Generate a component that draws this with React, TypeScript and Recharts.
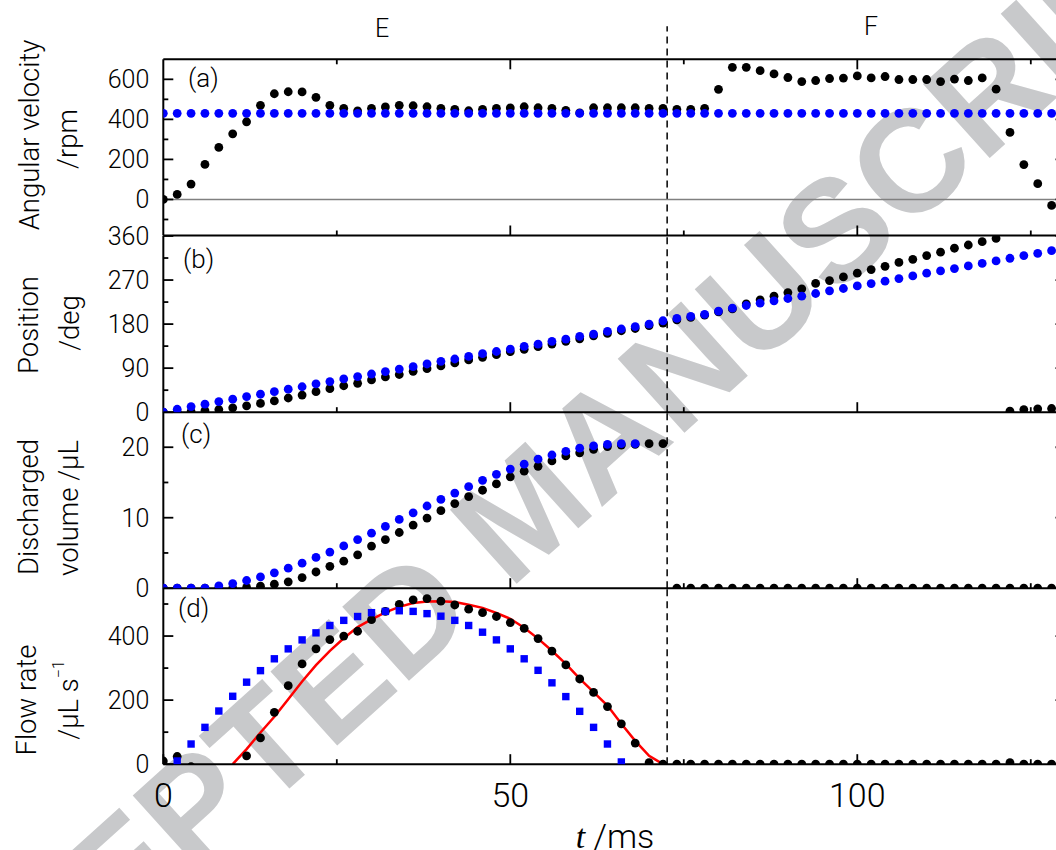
import React from "react";
import { ComposedChart, Scatter, Line, XAxis, YAxis, ReferenceLine } from "recharts";

// time grid, ms
const time = [
  0, 2, 4, 6, 8, 10, 12, 14, 16, 18, 20, 22, 24, 26, 28, 30, 32, 34, 36, 38, 40,
  42, 44, 46, 48, 50, 52, 54, 56, 58, 60, 62, 64, 66, 68, 70, 72, 74, 76, 78, 80,
  82, 84, 86, 88, 90, 92, 94, 96, 98, 100, 102, 104, 106, 108, 110, 112, 114, 116,
  118, 120, 122, 124, 126, 128,
];

// (a) angular velocity, rpm
const velMeasured = [
  0, 25, 77, 175, 260, 328, 388, 470, 528, 538, 537, 510, 470, 455, 442, 455, 462,
  470, 468, 463, 455, 450, 443, 450, 455, 457, 463, 458, 455, 445, 432, 458, 458,
  458, 458, 455, 455, 450, 450, 455, 550, 660, 660, 643, 627, 609, 589, 594, 604,
  606, 617, 607, 614, 599, 599, 599, 589, 601, 594, 607, 551, 335, 174, 79, -30,
];
const velModel = [
  430, 430, 430, 430, 430, 430, 430, 430, 430, 430, 430, 430, 430, 430, 430, 430,
  430, 430, 430, 430, 430, 430, 430, 430, 430, 430, 430, 430, 430, 430, 430, 430,
  430, 430, 430, 430, 430, 430, 430, 430, 430, 430, 430, 430, 430, 430, 430, 430,
  430, 430, 430, 430, 430, 430, 430, 430, 430, 430, 430, 430, 430, 430, 430, 430,
  430,
];

// (b) position, deg
const posMeasured = [
  0, 0, 1, 3, 5.5, 9, 13, 18, 23, 29, 35, 42, 48, 54, 59, 66, 72, 77, 83.5, 89,
  94.5, 100.6, 106.7, 112, 117.5, 123.6, 128.4, 133.8, 139.2, 144.7, 150, 156, 161,
  166.4, 171, 177, 182, 188.8, 193.6, 198.3, 205, 211, 221.4, 229.6, 237, 244.5,
  252, 263, 269, 276.4, 284, 291.4, 298, 306, 312.4, 320, 327, 335, 341.6, 348.4,
  355, 2, 5.4, 6.8, 7.5,
];
const posModel = [
  0, 6, 11.5, 16.3, 21.7, 26.5, 32, 36.7, 42, 47, 52, 58, 62.5, 68, 72.7, 78, 83,
  88, 93, 98.5, 104, 108.7, 114, 119.5, 124, 129, 134.5, 139, 144.7, 149.4, 155,
  159.6, 165, 170, 175, 180, 186.8, 191.5, 195.6, 200, 206.5, 212.6, 218, 222.8,
  227.5, 232.3, 237, 242.5, 248, 252.7, 258, 262.8, 267.6, 273, 278.5, 284, 288.7,
  293.4, 298.8, 304, 309, 314.5, 320, 324.7, 330,
];

// (c) discharged volume, uL
const volMeasured = [
  0, 0, 0, 0, 0, 0, 0.1, 0.28, 0.57, 0.9, 1.5, 2.3, 3.1, 3.84, 4.74, 5.97, 6.9, 7.9,
  8.96, 9.95, 11, 12, 13, 13.9, 14.8, 15.8, 16.6, 17.3, 18.06, 18.77, 19.2, 19.7,
  20.1, 20.3, 20.4, 20.5, 20.5, 0, 0, 0, 0, 0, 0, 0, 0, 0, 0, 0, 0, 0, 0, 0, 0, 0,
  0, 0, 0, 0, 0, 0, 0, 0, 0, 0, 0,
];
const volModelTime = time.slice(0, 35);
const volModel = [
  0, 0, 0, 0, 0.33, 0.66, 1.09, 1.6, 2.18, 2.84, 3.55, 4.36, 5.12, 6.0, 6.9, 7.8,
  8.77, 9.76, 10.7, 11.66, 12.6, 13.5, 14.4, 15.3, 16.16, 16.9, 17.6, 18.3, 18.9,
  19.4, 19.86, 20.2, 20.4, 20.5, 20.5,
];

// (d) flow rate, uL/s
const flowMeasured = [
  10, 24, -8, -25, -25, -20, 26, 82, 162, 245, 313, 360, 389, 400, 415, 451, 477,
  499, 513, 517, 509, 497, 484, 473, 461, 442, 424, 392, 353, 310, 266, 224, 180,
  126, 66, 5, 0, 0, 0, 0, 0, 0, 0, 0, 0, 0, 0, 0, 0, 0, 0, 0, 0, 0, 0, 0, 0, 0, 0,
  0, 0, 5, 0, 0, 0,
];
const flowModelTime = time.slice(1, 34);
const flowModel = [
  10, 63, 115, 166, 212, 256, 292, 329, 360, 388, 410, 433, 449, 461, 473, 477, 479,
  477, 470, 462, 449, 433, 412, 388, 360, 329, 293, 254, 211, 165, 115, 63, 7,
];
const flowCalcTime = time.slice(5, 37);
const flowCalc = [
  0, 47, 99, 148, 203, 258, 309, 354, 393, 428, 452, 474, 491, 503, 508, 509, 506,
  498, 488, 472, 454, 426, 392, 354, 313, 267, 225, 183, 126, 73, 26, 0,
];

const PHASE_SPLIT = 72.6;

const pts = (ts: number[], vs: number[]) => ts.map((t, i) => ({ t, v: vs[i] }));

const FONT = "Roboto, 'Liberation Sans', Arial, sans-serif";
const W = 1100;
const PLOT_L = 163.3;
const PLOT_R = 1065.5;
const PH = 176.2;
const YW = 60;
const RW = 10;
const XH = 2;
const TOPS = [59.3, 235.5, 411.7, 587.9];
const MAJOR = 10;
const MINOR = 5;
const AXIS_W = 2;

const blackDot = (p: any) => <circle cx={p.cx} cy={p.cy} r={4.4} fill="#000" />;
const blueDot = (p: any) => <circle cx={p.cx} cy={p.cy} r={4.4} fill="#0000ff" />;
const blueSquare = (p: any) => (
  <rect x={p.cx - 3.7} y={p.cy - 3.7} width={7.4} height={7.4} fill="#0000ff" />
);

const leftTick = (major: number[]) => (p: any) => {
  const v = p.payload.value;
  const isMajor = major.includes(v);
  return (
    <g>
      <line x1={p.x} x2={p.x + (isMajor ? MAJOR : MINOR)} y1={p.y} y2={p.y} stroke="#000" strokeWidth={1.8} />
      {isMajor && (
        <text x={p.x - 14} y={p.y} dy="0.36em" textAnchor="end" fontSize={25} fontFamily={FONT} fontWeight={300} fill="#000">
          {v}
        </text>
      )}
    </g>
  );
};

const rightTick = (major: number[]) => (p: any) => {
  const isMajor = major.includes(p.payload.value);
  return <line x1={p.x} x2={p.x - (isMajor ? MAJOR : MINOR)} y1={p.y} y2={p.y} stroke="#000" strokeWidth={1.8} />;
};

const X_MAJOR = [0, 50, 100];
const bottomTick = (labels: boolean) => (p: any) => {
  const v = p.payload.value;
  const isMajor = X_MAJOR.includes(v);
  return (
    <g>
      <line x1={p.x} x2={p.x} y1={p.y} y2={p.y - (isMajor ? MAJOR : MINOR)} stroke="#000" strokeWidth={1.8} />
      {labels && isMajor && (
        <text x={p.x} y={p.y + 31} dy="0.36em" textAnchor="middle" fontSize={34} fontFamily={FONT} fontWeight={300} fill="#000">
          {v}
        </text>
      )}
    </g>
  );
};

const topTick = (p: any) => {
  const isMajor = X_MAJOR.includes(p.payload.value);
  return <line x1={p.x} x2={p.x} y1={p.y} y2={p.y + (isMajor ? MAJOR : MINOR)} stroke="#000" strokeWidth={1.8} />;
};

interface PanelProps {
  index: number;
  domain: [number, number];
  major: number[];
  minor: number[];
  children: React.ReactNode;
}

function Panel({ index, domain, major, minor, children }: PanelProps) {
  const first = index === 0;
  const last = index === 3;
  const plotTop = TOPS[index];
  const padT = first ? plotTop : 20;
  const padB = last ? 86 : 20;
  const height = padT + PH + padB;
  const topH = first ? XH : 0;
  const yTicks = [...major, ...minor].sort((a, b) => a - b);
  const xTicks = last ? [0, 25, 50, 75, 100, 125] : [25, 50, 75, 100, 125];
  const axisLine = { stroke: "#000", strokeWidth: AXIS_W };
  return (
    <div style={{ position: "absolute", left: 0, top: plotTop - padT, width: W, height }}>
      <ComposedChart
        width={W}
        height={height}
        margin={{ top: padT - topH, right: W - PLOT_R - RW, bottom: padB - XH, left: PLOT_L - YW }}
      >
        <XAxis
          type="number"
          dataKey="t"
          domain={[0, 130]}
          allowDataOverflow
          ticks={xTicks}
          interval={0}
          tickSize={0}
          tickMargin={0}
          height={XH}
          axisLine={axisLine}
          tickLine={false}
          tick={bottomTick(last)}
        />
        {first && (
          <XAxis
            xAxisId="top"
            orientation="top"
            type="number"
            dataKey="t"
            domain={[0, 130]}
            allowDataOverflow
            ticks={[25, 50, 75, 100, 125]}
            interval={0}
            tickSize={0}
            tickMargin={0}
            height={XH}
            axisLine={axisLine}
            tickLine={false}
            tick={topTick}
          />
        )}
        <YAxis
          type="number"
          dataKey="v"
          domain={domain}
          allowDataOverflow
          ticks={yTicks}
          interval={0}
          tickSize={0}
          tickMargin={0}
          width={YW}
          axisLine={axisLine}
          tickLine={false}
          tick={leftTick(major)}
        />
        <YAxis
          yAxisId="right"
          orientation="right"
          type="number"
          dataKey="v"
          domain={domain}
          allowDataOverflow
          ticks={yTicks}
          interval={0}
          tickSize={0}
          tickMargin={0}
          width={RW}
          axisLine={axisLine}
          tickLine={false}
          tick={rightTick(major)}
        />
        {first ? (
          <ReferenceLine
            segment={[
              { x: PHASE_SPLIT, y: -180 },
              { x: PHASE_SPLIT, y: 865 },
            ]}
            ifOverflow="visible"
            stroke="#000"
            strokeWidth={1.5}
            strokeDasharray="7 5"
          />
        ) : (
          <ReferenceLine x={PHASE_SPLIT} stroke="#000" strokeWidth={1.5} strokeDasharray="7 5" />
        )}
        {children}
      </ComposedChart>
    </div>
  );
}

const vTitle = (x: number, y: number, content: React.ReactNode) => (
  <text
    transform={`translate(${x},${y}) rotate(-90)`}
    textAnchor="middle"
    dominantBaseline="central"
    fontSize={27.5}
    fontFamily={FONT}
    fontWeight={300}
    fill="#000"
  >
    {content}
  </text>
);

const panelLabel = (x: number, y: number, s: string) => (
  <text x={x} y={y} dominantBaseline="central" fontSize={26} fontFamily={FONT} fontWeight={300} fill="#000">
    {s}
  </text>
);

export default function App() {
  return (
    <div
      style={{
        position: "fixed",
        left: 0,
        top: 0,
        width: 1056,
        height: 850,
        overflow: "hidden",
        background: "#fff",
      }}
    >
      <svg width={1056} height={850} style={{ position: "absolute", left: 0, top: 0 }}>
        <text
          x={524}
          y={510}
          transform="rotate(-42 524 510)"
          textAnchor="middle"
          dominantBaseline="central"
          fontSize={145}
          fontWeight="bold"
          fontFamily="'Liberation Sans', Arial, sans-serif"
          fill="#c8c9cb"
        >
          ACCEPTED MANUSCRIPT
        </text>
      </svg>

      <Panel index={0} domain={[-180, 700]} major={[0, 200, 400, 600]} minor={[-100, 100, 300, 500]}>
        <ReferenceLine y={0} stroke="#808080" strokeWidth={1.5} />
        <Scatter data={pts(time, velMeasured)} shape={blackDot} isAnimationActive={false} />
        <Scatter data={pts(time, velModel)} shape={blueDot} isAnimationActive={false} />
      </Panel>

      <Panel index={1} domain={[0, 360]} major={[0, 90, 180, 270, 360]} minor={[45, 135, 225, 315]}>
        <Scatter data={pts(time, posMeasured)} shape={blackDot} isAnimationActive={false} />
        <Scatter data={pts(time, posModel)} shape={blueDot} isAnimationActive={false} />
      </Panel>

      <Panel index={2} domain={[0, 25]} major={[0, 10, 20]} minor={[5, 15]}>
        <Scatter data={pts(time, volMeasured)} shape={blackDot} isAnimationActive={false} />
        <Scatter data={pts(volModelTime, volModel)} shape={blueDot} isAnimationActive={false} />
      </Panel>

      <Panel index={3} domain={[0, 550]} major={[0, 200, 400]} minor={[100, 300, 500]}>
        <Scatter data={pts(time, flowMeasured)} shape={blackDot} isAnimationActive={false} />
        <Scatter data={pts(flowModelTime, flowModel)} shape={blueSquare} isAnimationActive={false} />
        <Line
          data={pts(flowCalcTime, flowCalc)}
          dataKey="v"
          type="linear"
          stroke="#ff0000"
          strokeWidth={2.5}
          dot={false}
          activeDot={false}
          isAnimationActive={false}
        />
      </Panel>

      <svg width={1056} height={850} style={{ position: "absolute", left: 0, top: 0, pointerEvents: "none" }}>
        <text x={382} y={28} textAnchor="middle" dominantBaseline="central" fontSize={25} fontFamily={FONT} fontWeight={300}>
          E
        </text>
        <text x={871} y={26} textAnchor="middle" dominantBaseline="central" fontSize={25} fontFamily={FONT} fontWeight={300}>
          F
        </text>

        {vTitle(29, 135, "Angular velocity")}
        {vTitle(67, 139, "/rpm")}
        {vTitle(28, 325, "Position")}
        {vTitle(69, 323, "/deg")}
        {vTitle(28, 507, "Discharged")}
        {vTitle(68, 508, "volume /μL")}
        {vTitle(26, 700, "Flow rate")}
        {vTitle(
          68,
          700,
          <>
            /μL s
            <tspan fontSize={16} dy={-10}>
              −1
            </tspan>
          </>
        )}

        {panelLabel(188, 78, "(a)")}
        {panelLabel(183, 259, "(b)")}
        {panelLabel(181, 434, "(c)")}
        {panelLabel(178, 608, "(d)")}

        <text x={615} y={848} textAnchor="middle" fontSize={34} fontFamily={FONT} fontWeight={300}>
          <tspan fontStyle="italic" fontFamily="'Liberation Serif', serif">
            t
          </tspan>{" "}
          /ms
        </text>
      </svg>
    </div>
  );
}
